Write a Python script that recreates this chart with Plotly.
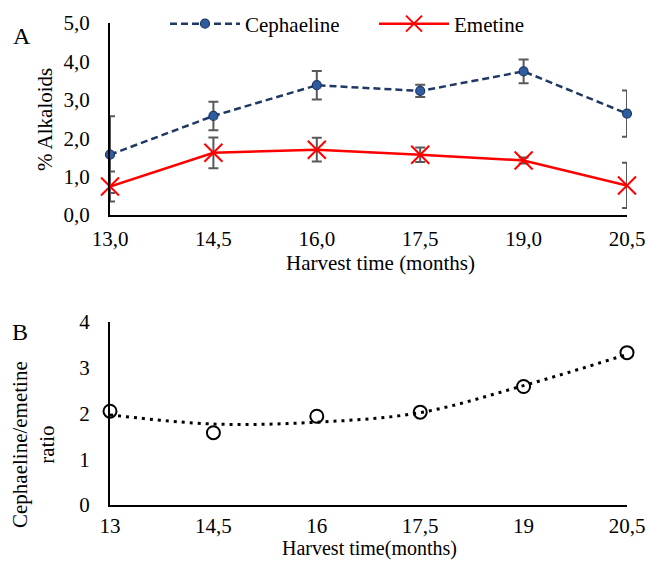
import plotly.graph_objects as go

# ---- data ----
months = [13.0, 14.5, 16.0, 17.5, 19.0, 20.5]
cephaeline = [1.57, 2.58, 3.38, 3.23, 3.74, 2.64]
cephaeline_err = [1.00, 0.37, 0.37, 0.16, 0.31, 0.60]
emetine = [0.74, 1.62, 1.70, 1.57, 1.42, 0.77]
emetine_err = [0.39, 0.40, 0.31, 0.19, 0.08, 0.59]

ratio = [2.05, 1.58, 1.94, 2.03, 2.59, 3.33]
ratio_trend = [1.97, 1.77, 1.81, 2.02, 2.61, 3.29]

FONT = "Liberation Serif"
FS = 21

fig = go.Figure()

fig.add_trace(go.Scatter(
    x=months, y=cephaeline, name="Cephaeline", mode="lines+markers",
    line=dict(color="#1F3864", width=2.5, dash="7px,4px"),
    marker=dict(symbol="circle", size=9, color="#2F5C9E",
                line=dict(color="#1F3864", width=1.2)),
    error_y=dict(type="data", array=cephaeline_err, color="#595959",
                 thickness=2, width=5),
    cliponaxis=False, xaxis="x", yaxis="y"))

fig.add_trace(go.Scatter(
    x=months, y=emetine, name="Emetine", mode="lines+markers",
    line=dict(color="#FF0000", width=2.5),
    marker=dict(symbol="x-thin", size=18, color="#FF0000",
                line=dict(color="#FF0000", width=2)),
    error_y=dict(type="data", array=emetine_err, color="#595959",
                 thickness=2, width=5),
    cliponaxis=False, xaxis="x", yaxis="y"))

fig.add_trace(go.Scatter(
    x=months, y=ratio_trend, mode="lines", showlegend=False,
    line=dict(color="black", width=3, dash="3px,5px", shape="spline"),
    cliponaxis=False, xaxis="x2", yaxis="y2"))

fig.add_trace(go.Scatter(
    x=months, y=ratio, mode="markers", showlegend=False,
    marker=dict(symbol="circle", size=13, color="rgba(255,255,255,0)",
                line=dict(color="black", width=2)),
    cliponaxis=False, xaxis="x2", yaxis="y2"))

W, H = 647, 562
xdom = [110 / W, 627 / W]

axis_common = dict(showline=True, linecolor="black", linewidth=2,
                   showgrid=False, zeroline=False, ticks="",
                   tickfont=dict(family=FONT, size=FS, color="black"),
                   automargin=False)

fig.update_layout(
    width=W, height=H,
    margin=dict(l=0, r=0, t=0, b=0),
    paper_bgcolor="white", plot_bgcolor="white",
    separators=", ",
    font=dict(family=FONT, size=FS, color="black"),
    xaxis=dict(domain=xdom, range=[13, 20.5], tickvals=months,
               tickformat=".1f", anchor="y", ticklabelstandoff=4,
               **axis_common),
    yaxis=dict(domain=[(H - 215) / H, (H - 23) / H], range=[0, 5],
               tickvals=[0, 1, 2, 3, 4, 5], tickformat=".1f",
               anchor="x", ticklabelstandoff=14, **axis_common),
    xaxis2=dict(domain=xdom, range=[13, 20.5], tickvals=months,
                anchor="y2", ticklabelstandoff=1, **axis_common),
    yaxis2=dict(domain=[(H - 505) / H, (H - 322) / H], range=[0, 4],
                tickvals=[0, 1, 2, 3, 4], anchor="x2",
                ticklabelstandoff=14, **axis_common),
    legend=dict(orientation="h", x=165 / W, xanchor="left",
                y=(H - 24) / H, yanchor="middle",
                itemwidth=70, entrywidth=124,
                bgcolor="rgba(0,0,0,0)",
                font=dict(family=FONT, size=FS, color="black")),
    showlegend=True,
)

ann = [
    dict(text="A", x=22 / W, y=(H - 36) / H, font=dict(size=24)),
    dict(text="B", x=20 / W, y=(H - 332) / H, font=dict(size=24)),
    dict(text="% Alkaloids", x=45 / W, y=(H - 120) / H, textangle=-90),
    dict(text="Harvest time (months)", x=380 / W, y=(H - 263) / H),
    dict(text="Cephaeline/emetine<br>ratio", x=34 / W, y=(H - 445) / H,
         textangle=-90),
]
for a in ann:
    a.setdefault("font", {})
    a["font"] = dict(family=FONT, size=a["font"].get("size", FS), color="black")
    fig.add_annotation(xref="paper", yref="paper", showarrow=False,
                       xanchor="center", yanchor="middle", **a)

fig.add_annotation(xref="paper", yref="paper", showarrow=False,
                   text="Harvest time(months)", x=369 / W, y=0,
                   xanchor="center", yanchor="bottom",
                   font=dict(family=FONT, size=20, color="black"))

fig.write_html("out.html",
               config={"displayModeBar": False},
               post_script="document.body.style.margin='0';"
                           "document.body.style.overflow='hidden';")
